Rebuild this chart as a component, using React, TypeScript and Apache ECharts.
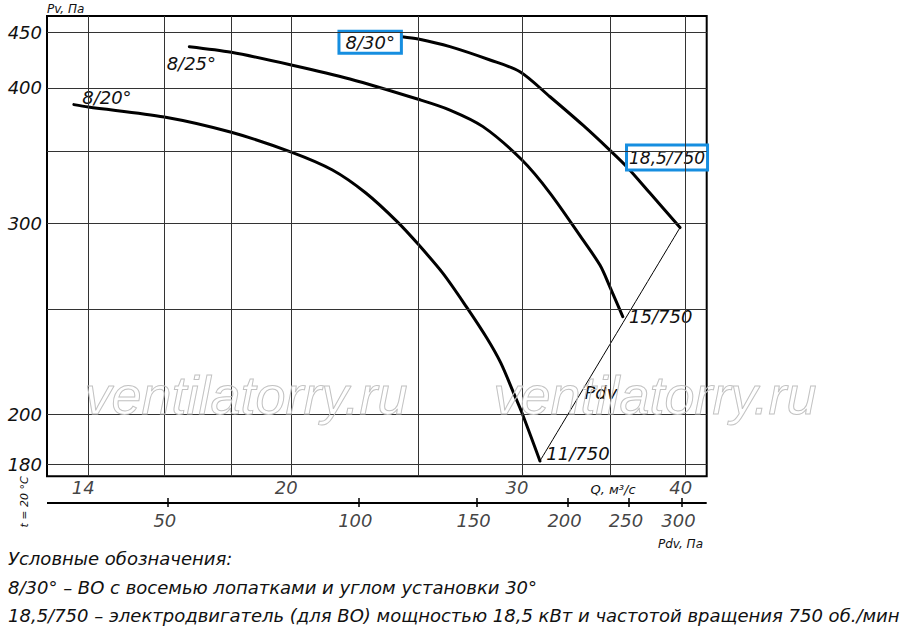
import React, { useEffect, useRef } from "react";
import * as echarts from "echarts";

const FONT = "'DejaVu Sans', 'Liberation Sans', sans-serif";
const WM_FONT = "'Liberation Sans', Arial, sans-serif";

// ---- axis / grid values ----
const yGridValues = [180, 200, 250, 300, 350, 400, 450];
const yTickLabels = [180, 200, 300, 400, 450];
const xGridValues = [14, 16, 18, 20, 25, 30, 35, 40];
const qTickLabels = [14, 20, 30, 40];
const pdvTickLabels = [50, 100, 150, 200, 250, 300];
const pdvTickAtQ = [16.1, 22.5, 27.7, 32.5, 36.2, 39.7];

// ---- curves: Q (m3/s) vs Pv (Pa) ----
const q8_20 = [13.65, 14.0, 16.0, 18.0, 20.0, 21.5, 22.8, 24.1, 25.0, 26.1, 27.2, 28.2, 28.9, 29.6, 30.0, 30.96];
const pv8_20 = [386, 384, 376, 364, 349, 336, 320, 301, 287, 270, 251.5, 235.3, 223.2, 208.6, 200.7, 181.3];
const q8_25 = [16.72, 18.0, 20.0, 22.17, 25.0, 26.43, 28.01, 30.0, 31.51, 33.39, 34.41, 35.0, 35.81];
const pv8_25 = [436.5, 431.3, 419.9, 407.6, 390.4, 381.6, 368.4, 343.2, 320.0, 289.7, 274.5, 262.4, 246.2];
const q8_30 = [24.29, 25.0, 26.43, 28.36, 29.89, 31.51, 33.39, 35.0, 36.06, 37.56, 39.6];
const pv8_30 = [445.8, 443.6, 436.5, 424.3, 413.9, 392.5, 369.5, 350.5, 338.4, 320.0, 297.4];
const qPdv = [30.96, 39.6];
const pvPdv = [181.3, 297.4];

const curveNames = ["8/20°", "8/25°", "8/30°"];
const motorNames = ["11/750", "15/750", "18,5/750"];

const legendLines = [
  "Условные обозначения:",
  "8/30° – ВО с восемью лопатками и углом установки 30°",
  "18,5/750 – электродвигатель (для ВО) мощностью 18,5 кВт и частотой вращения 750 об./мин",
];

const X_MIN = 13.02;
const X_MAX = 41.5;
const Y_MIN = 175.5;
const Y_MAX = 465.8;

const BLUE = "#168ee0";

const txt = (size: number) => ({
  color: "#111",
  fontStyle: "italic",
  fontSize: size,
  fontFamily: FONT,
});

function buildCurve(
  name: string,
  qs: number[],
  ps: number[],
  labels: Record<number, any>,
  width: number
) {
  return {
    type: "line",
    name,
    xAxisIndex: 0,
    yAxisIndex: 0,
    z: 3,
    smooth: 0.3,
    symbol: "circle",
    symbolSize: 0,
    showSymbol: true,
    silent: true,
    lineStyle: { color: "#000", width, cap: "round", join: "round" },
    itemStyle: { color: "#000" },
    label: { show: false },
    data: qs.map((q, i) =>
      labels[i] ? { value: [q, ps[i]], label: labels[i] } : [q, ps[i]]
    ),
  };
}

export default function App() {
  const ref = useRef<HTMLDivElement>(null);

  useEffect(() => {
    if (!ref.current) return;
    const chart = echarts.init(ref.current, null, { renderer: "svg" });

    const plainLabel = (text: string, offset: number[]) => ({
      show: true,
      position: "inside",
      formatter: text,
      offset,
      ...txt(18),
    });
    const boxLabel = (text: string, offset: number[], size: number, padding: number[]) => ({
      show: true,
      position: "inside",
      formatter: text,
      offset,
      backgroundColor: "#fff",
      borderColor: BLUE,
      borderWidth: 3,
      padding,
      ...txt(size),
    });

    const option: any = {
      animation: false,
      backgroundColor: "#fff",
      grid: [
        {
          left: 47,
          top: 16,
          width: 659.7,
          height: 460.3,
          show: true,
          borderColor: "#000",
          borderWidth: 2,
          backgroundColor: "transparent",
        },
        { left: 47, top: 476.3, width: 659.7, height: 60, show: false },
      ],
      xAxis: [
        { type: "log", gridIndex: 0, min: X_MIN, max: X_MAX, show: false },
        { type: "log", gridIndex: 1, min: X_MIN, max: X_MAX, show: false },
      ],
      yAxis: [
        { type: "log", gridIndex: 0, min: Y_MIN, max: Y_MAX, show: false },
        { type: "value", gridIndex: 1, min: 0, max: 60, inverse: true, show: false },
      ],
      series: [
        // grid lines + Y tick labels
        {
          type: "line",
          xAxisIndex: 0,
          yAxisIndex: 0,
          data: [],
          silent: true,
          z: 1,
          markLine: {
            silent: true,
            animation: false,
            symbol: ["none", "none"],
            lineStyle: { color: "#333", width: 1, type: "solid" },
            label: { show: false },
            emphasis: { disabled: true },
            data: [
              ...yGridValues.map((v) => ({
                yAxis: v,
                label: yTickLabels.includes(v)
                  ? { show: true, position: "start", distance: 5, formatter: String(v), ...txt(18) }
                  : { show: false },
              })),
              ...xGridValues.map((v) => ({ xAxis: v })),
            ],
          },
        },
        buildCurve(
          curveNames[0],
          q8_20,
          pv8_20,
          {
            0: plainLabel(curveNames[0], [33, -7]),
            [q8_20.length - 1]: plainLabel(motorNames[0], [38, -7]),
          },
          3
        ),
        buildCurve(
          curveNames[1],
          q8_25,
          pv8_25,
          {
            0: plainLabel(curveNames[1], [2, 17]),
            [q8_25.length - 1]: plainLabel(motorNames[1], [38, 0]),
          },
          3
        ),
        buildCurve(
          curveNames[2],
          q8_30,
          pv8_30,
          {
            0: boxLabel(curveNames[2], [-31.7, 5.5], 18, [1, 5, 0, 5]),
            [q8_30.length - 1]: boxLabel(motorNames[2], [-13, -70], 17, [3, 1, 2, 1]),
          },
          3
        ),
        buildCurve("Pdv", qPdv, pvPdv, { 0: plainLabel("Pdv", [61, -68]) }, 1),
        // Pdv axis line and ticks (lower strip)
        {
          type: "line",
          xAxisIndex: 1,
          yAxisIndex: 1,
          data: [],
          silent: true,
          z: 1,
          markLine: {
            silent: true,
            animation: false,
            symbol: ["none", "none"],
            lineStyle: { color: "#000", width: 1.5, type: "solid" },
            label: { show: false },
            emphasis: { disabled: true },
            data: [
              { yAxis: 26, lineStyle: { width: 2 } },
              ...pdvTickAtQ.map((q) => [{ coord: [q, 21.7] }, { coord: [q, 30.7] }]),
            ],
          },
        },
        // Q tick labels
        {
          type: "scatter",
          xAxisIndex: 1,
          yAxisIndex: 1,
          symbolSize: 0,
          silent: true,
          data: qTickLabels.map((q) => ({ value: [q, 11.2], name: String(q) })),
          label: { show: true, position: "inside", formatter: "{b}", offset: [-5, 0], ...txt(18) },
        },
        // Pdv tick labels
        {
          type: "scatter",
          xAxisIndex: 1,
          yAxisIndex: 1,
          symbolSize: 0,
          silent: true,
          data: pdvTickAtQ.map((q, i) => ({ value: [q, 43.7], name: String(pdvTickLabels[i]) })),
          label: { show: true, position: "inside", formatter: "{b}", offset: [-3, 0], ...txt(18) },
        },
      ],
      graphic: [
        {
          type: "text",
          x: 47,
          y: 3,
          style: { text: "Pv, Па", fill: "#111", font: `italic 12px ${FONT}` },
        },
        {
          type: "text",
          x: 613,
          y: 489,
          style: {
            text: "Q, м³/с",
            fill: "#111",
            font: `italic 13px ${FONT}`,
            align: "center",
            verticalAlign: "middle",
          },
        },
        {
          type: "text",
          x: 680.5,
          y: 544,
          style: {
            text: "Pdv, Па",
            fill: "#111",
            font: `italic 12px ${FONT}`,
            align: "center",
            verticalAlign: "middle",
          },
        },
        {
          type: "text",
          x: 24,
          y: 502,
          rotation: Math.PI / 2,
          style: {
            text: "t = 20 °C",
            fill: "#111",
            font: `italic 11px ${FONT}`,
            align: "center",
            verticalAlign: "middle",
          },
        },
        {
          type: "text",
          x: 246,
          y: 395,
          z: 10,
          silent: true,
          style: {
            text: "ventilatorry.ru",
            fill: "rgba(255,255,255,0)",
            stroke: "#c2c2c2",
            lineWidth: 1,
            font: `italic 54px ${WM_FONT}`,
            align: "center",
            verticalAlign: "middle",
          },
        },
        {
          type: "text",
          x: 655,
          y: 395,
          z: 10,
          silent: true,
          style: {
            text: "ventilatorry.ru",
            fill: "rgba(255,255,255,0)",
            stroke: "#c2c2c2",
            lineWidth: 1,
            font: `italic 54px ${WM_FONT}`,
            align: "center",
            verticalAlign: "middle",
          },
        },
        ...legendLines.map((line, i) => ({
          type: "text",
          x: 8,
          y: [558, 587, 615][i],
          style: {
            text: line,
            fill: "#111",
            font: `italic 18px ${FONT}`,
            align: "left",
            verticalAlign: "middle",
          },
        })),
      ],
    };

    chart.setOption(option);
    return () => chart.dispose();
  }, []);

  return (
    <div
      ref={ref}
      style={{ position: "absolute", left: 0, top: 0, width: 900, height: 632 }}
    />
  );
}
